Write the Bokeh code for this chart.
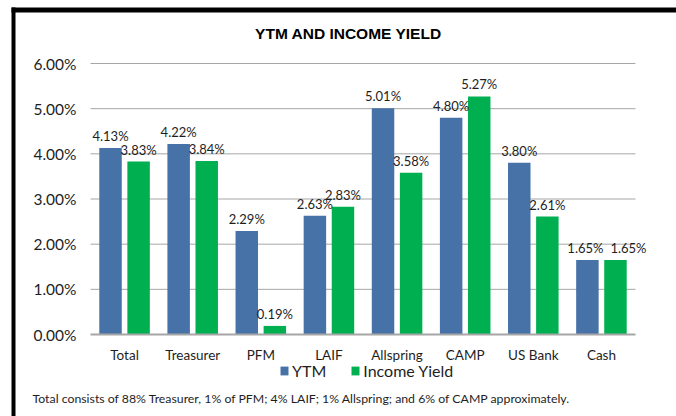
import numpy as np
from bokeh.plotting import figure
from bokeh.models import (ColumnDataSource, Range1d, FixedTicker, BoxAnnotation,
                          PrintfTickFormatter, LabelSet, Label, Legend, LegendItem)
from bokeh.core.properties import value
from bokeh.embed import file_html
from bokeh.resources import INLINE

categories = ["Total", "Treasurer", "PFM", "LAIF", "Allspring", "CAMP", "US Bank", "Cash"]
ytm = [4.13, 4.22, 2.29, 2.63, 5.01, 4.80, 3.80, 1.65]
income_yield = [3.83, 3.84, 0.19, 2.83, 3.58, 5.27, 2.61, 1.65]
y_ticks = [0, 1, 2, 3, 4, 5, 6]
series_names = ["YTM", "Income Yield"]
title_text = "YTM AND INCOME YIELD"
footnote = "Total consists of 88% Treasurer, 1% of PFM; 4% LAIF; 1% Allspring; and 6% of CAMP  approximately."

BLUE = "#4672A8"
GREEN = "#00B050"
GRID = "#A6A6A6"
FONT = "Lato"
TXT = "#1E1E1E"

# ---- layout geometry (pixels of the canvas) ----
W, H = 676, 416
PLOT_L, PLOT_R = 90, 635      # left / right edge of the category area
PLOT_T, PLOT_B = 63, 334      # y of the top tick and of the zero line
ncat = len(categories)
ymax = max(y_ticks)
xpx = (PLOT_R - PLOT_L) / ncat
ypx = (PLOT_B - PLOT_T) / ymax
x_range = Range1d(-PLOT_L / xpx, ncat + (W - PLOT_R) / xpx)
y_range = Range1d(-(H - PLOT_B) / ypx, ymax + PLOT_T / ypx)


def px_x(px):
    return x_range.start + px / xpx


def px_y(py):
    return y_range.end - py / ypx


xc = np.arange(ncat) + 0.5
off, bw = 0.206, 0.33

# nudge labels sideways when the two labels of a pair sit at the same height
blue_dx = [-2 if abs(a - b) < 0.1 else 0 for a, b in zip(ytm, income_yield)]
green_dx = [13 if abs(a - b) < 0.1 else 0 for a, b in zip(ytm, income_yield)]

src = ColumnDataSource(dict(
    xb=xc - off, xg=xc + off,
    ytm=ytm, inc=income_yield,
    ytm_lbl=[f"{v:.2f}%" for v in ytm],
    inc_lbl=[f"{v:.2f}%" for v in income_yield],
    bdx=blue_dx, gdx=green_dx,
))

p = figure(width=W, height=H, x_range=x_range, y_range=y_range,
           output_backend="svg", toolbar_location=None,
           min_border=0, min_border_left=0, min_border_right=0,
           min_border_top=0, min_border_bottom=0)
p.outline_line_color = None
p.background_fill_color = "white"
p.border_fill_color = "white"
p.xgrid.visible = False
p.ygrid.visible = False

# black frame lines on the top and left edge
p.add_layout(BoxAnnotation(left=px_x(11), bottom=px_y(12), top=px_y(7),
                           fill_color="black", fill_alpha=1, line_color=None))
p.add_layout(BoxAnnotation(left=px_x(11), right=px_x(15), top=px_y(7),
                           fill_color="black", fill_alpha=1, line_color=None))

# horizontal gridlines across the category area
p.segment(x0=0, x1=ncat, y0=y_ticks[1:], y1=y_ticks[1:], line_color=GRID, line_width=1)

r1 = p.vbar(x="xb", top="ytm", width=bw, source=src, fill_color=BLUE, line_color=None)
r2 = p.vbar(x="xg", top="inc", width=bw, source=src, fill_color=GREEN, line_color=None)

for xcol, ycol, tcol, dxcol in [("xb", "ytm", "ytm_lbl", "bdx"), ("xg", "inc", "inc_lbl", "gdx")]:
    p.add_layout(LabelSet(x=xcol, y=ycol, text=tcol, source=src,
                          x_offset=dxcol, y_offset=4, text_align="center", text_baseline="bottom",
                          text_font=value(FONT), text_font_size=value("13px"),
                          text_color=TXT))

# y axis at x = 0
p.yaxis.fixed_location = 0
p.yaxis.bounds = (0, ymax)
p.yaxis.ticker = FixedTicker(ticks=y_ticks)
p.yaxis.formatter = PrintfTickFormatter(format="%.2f%%")
p.yaxis.axis_line_color = None
p.yaxis.major_tick_line_color = None
p.yaxis.minor_tick_line_color = None
p.yaxis.major_tick_out = 0
p.yaxis.major_tick_in = 0
p.yaxis.major_label_standoff = 14
p.yaxis.major_label_text_font = FONT
p.yaxis.major_label_text_font_size = "15.5px"
p.yaxis.major_label_text_color = TXT

# x axis at y = 0
p.xaxis.fixed_location = 0
p.xaxis.bounds = (0, ncat)
p.xaxis.ticker = FixedTicker(ticks=list(xc))
p.xaxis.major_label_overrides = {float(x): c for x, c in zip(xc, categories)}
p.xaxis.axis_line_color = GRID
p.xaxis.axis_line_width = 2
p.xaxis.major_tick_line_color = None
p.xaxis.minor_tick_line_color = None
p.xaxis.major_tick_out = 0
p.xaxis.major_tick_in = 0
p.xaxis.major_label_standoff = 12
p.xaxis.major_label_text_font = FONT
p.xaxis.major_label_text_font_size = "13.5px"
p.xaxis.major_label_text_color = TXT

# title
p.add_layout(Label(x=348, y=H - 32.5, x_units="screen", y_units="screen", text=title_text,
                   text_align="center", text_baseline="middle",
                   text_font="Liberation Sans", text_font_style="bold",
                   text_font_size="15.5px", text_color="black"))

# legend
legend = Legend(items=[LegendItem(label=series_names[0], renderers=[r1]),
                       LegendItem(label=series_names[1], renderers=[r2])],
                location=(279, 36), orientation="horizontal",
                glyph_width=10, glyph_height=11, label_standoff=3, spacing=24,
                padding=0, margin=0, border_line_color=None, background_fill_alpha=0,
                label_height=18,
                label_text_font=FONT, label_text_font_size="16px", label_text_color=TXT)
p.add_layout(legend, "center")

# footnote
p.add_layout(Label(x=32, y=H - 398, x_units="screen", y_units="screen", text=footnote,
                   text_align="left", text_baseline="alphabetic",
                   text_font=FONT, text_font_size="12.3px", text_color=TXT))

open("out.html", "w").write(file_html(p, INLINE))
